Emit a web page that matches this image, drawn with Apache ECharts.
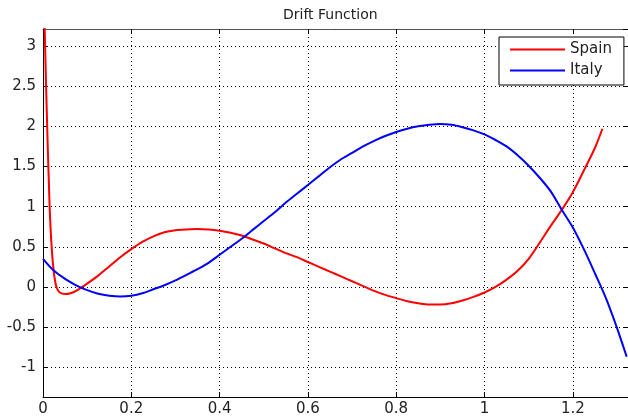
<!DOCTYPE html>
<html>
<head>
<meta charset="utf-8">
<script src="https://cdn.jsdelivr.net/npm/echarts@6/dist/echarts.min.js"></script>
<style>
html,body{margin:0;padding:0;background:#fff;}
#chart{width:628px;height:417px;}
</style>
</head>
<body>
<div id="chart"></div>
<script>
var titleText = 'Drift Function';
var seriesNames = ['Spain', 'Italy'];

var spainX = [0.003, 0.005, 0.007, 0.009, 0.011, 0.013, 0.015, 0.017, 0.019, 0.022, 0.026, 0.031, 0.038, 0.050, 0.0625, 0.075, 0.100, 0.125, 0.150, 0.175, 0.200, 0.225, 0.250, 0.275, 0.300, 0.325, 0.350, 0.375, 0.400, 0.425, 0.450, 0.475, 0.500, 0.525, 0.550, 0.575, 0.600, 0.625, 0.650, 0.675, 0.700, 0.725, 0.750, 0.775, 0.800, 0.825, 0.850, 0.875, 0.900, 0.925, 0.950, 0.975, 1.000, 1.025, 1.050, 1.075, 1.100, 1.125, 1.150, 1.175, 1.200, 1.225, 1.250, 1.267];
var spainY = [3.4, 2.95, 2.5, 2.1, 1.7, 1.35, 1.0, 0.75, 0.55, 0.32, 0.12, -0.01, -0.07, -0.09, -0.08, -0.05, 0.04, 0.14, 0.255, 0.37, 0.47, 0.56, 0.63, 0.68, 0.705, 0.715, 0.72, 0.715, 0.70, 0.675, 0.64, 0.59, 0.54, 0.48, 0.42, 0.37, 0.31, 0.25, 0.19, 0.13, 0.07, 0.01, -0.05, -0.10, -0.14, -0.18, -0.205, -0.22, -0.22, -0.205, -0.17, -0.125, -0.07, 0.0, 0.09, 0.20, 0.35, 0.55, 0.76, 0.96, 1.18, 1.45, 1.73, 1.97];

var italyX = [0.000, 0.025, 0.050, 0.075, 0.100, 0.125, 0.150, 0.175, 0.200, 0.225, 0.250, 0.275, 0.300, 0.325, 0.350, 0.375, 0.400, 0.425, 0.450, 0.475, 0.500, 0.525, 0.550, 0.575, 0.600, 0.625, 0.650, 0.675, 0.700, 0.725, 0.750, 0.775, 0.800, 0.825, 0.850, 0.875, 0.900, 0.925, 0.950, 0.975, 1.000, 1.025, 1.050, 1.075, 1.100, 1.125, 1.150, 1.175, 1.200, 1.225, 1.250, 1.275, 1.300, 1.322];
var italyY = [0.35, 0.20, 0.10, 0.02, -0.04, -0.085, -0.11, -0.12, -0.11, -0.08, -0.03, 0.02, 0.08, 0.15, 0.22, 0.30, 0.40, 0.50, 0.60, 0.71, 0.82, 0.93, 1.05, 1.16, 1.27, 1.38, 1.49, 1.59, 1.67, 1.75, 1.82, 1.88, 1.93, 1.97, 2.00, 2.02, 2.03, 2.02, 1.99, 1.95, 1.90, 1.83, 1.75, 1.64, 1.51, 1.36, 1.19, 0.96, 0.74, 0.47, 0.17, -0.14, -0.51, -0.87];

var xMin = 0, xMax = 1.325;
var yMin = -1.372, yMax = 3.213;

function pairs(xs, ys) { return xs.map(function (x, i) { return [x, ys[i]]; }); }

var FONT = 'DejaVu Sans';
var chart = echarts.init(document.getElementById('chart'), null, {renderer: 'canvas'});

function xAx(pos, show) {
  return {
    type: 'value', position: pos, min: xMin, max: xMax, splitNumber: 6,
    axisLine: {show: true, onZero: false, lineStyle: {color: pos === 'top' ? '#555' : '#000', width: 1}},
    axisTick: {show: true, inside: true, length: 5, lineStyle: {color: '#000'}},
    axisLabel: {show: show, showMinLabel: true, showMaxLabel: false, margin: 5, fontFamily: FONT, fontSize: 15, color: '#222'},
    splitLine: {show: show, lineStyle: {color: '#000', type: [1, 3], width: 1}}
  };
}
function yAx(pos, show) {
  return {
    type: 'value', position: pos, min: yMin, max: yMax, splitNumber: 9,
    axisLine: {show: true, onZero: false, lineStyle: {color: '#000', width: 1}},
    axisTick: {show: true, inside: true, length: 5, lineStyle: {color: '#000'}},
    axisLabel: {show: show, showMinLabel: false, showMaxLabel: false, margin: 7, fontFamily: FONT, fontSize: 15, color: '#222'},
    splitLine: {show: show, lineStyle: {color: '#000', type: [1, 3], width: 1}}
  };
}

chart.setOption({
  animation: false,
  backgroundColor: '#fff',
  title: {
    text: titleText, left: 283, top: 8, padding: 0,
    textStyle: {fontFamily: FONT, fontSize: 14, fontWeight: 'normal', color: '#222'}
  },
  legend: {
    data: seriesNames.map(function (n) { return {name: n, icon: 'rect'}; }),
    orient: 'vertical', left: 499, top: 37,
    padding: [5, 12, 7, 11], itemWidth: 55, itemHeight: 2, itemGap: 6,
    backgroundColor: '#fff', borderColor: '#000', borderWidth: 1,
    textStyle: {fontFamily: FONT, fontSize: 15, color: '#222', lineHeight: 14}
  },
  grid: {left: 43, top: 29, width: 586, height: 370, containLabel: false},
  xAxis: [xAx('bottom', true), xAx('top', false)],
  yAxis: [yAx('left', true), yAx('right', false)],
  series: [
    {name: seriesNames[0], type: 'line', xAxisIndex: 0, yAxisIndex: 0, data: pairs(spainX, spainY),
     symbol: 'none', showSymbol: false, smooth: 0.3, clip: true,
     lineStyle: {color: '#ff0000', width: 2}, itemStyle: {color: '#ff0000'}},
    {name: seriesNames[1], type: 'line', xAxisIndex: 0, yAxisIndex: 0, data: pairs(italyX, italyY),
     symbol: 'none', showSymbol: false, smooth: 0.3, clip: true,
     lineStyle: {color: '#0000ff', width: 2}, itemStyle: {color: '#0000ff'}}
  ]
});
</script>
</body>
</html>
